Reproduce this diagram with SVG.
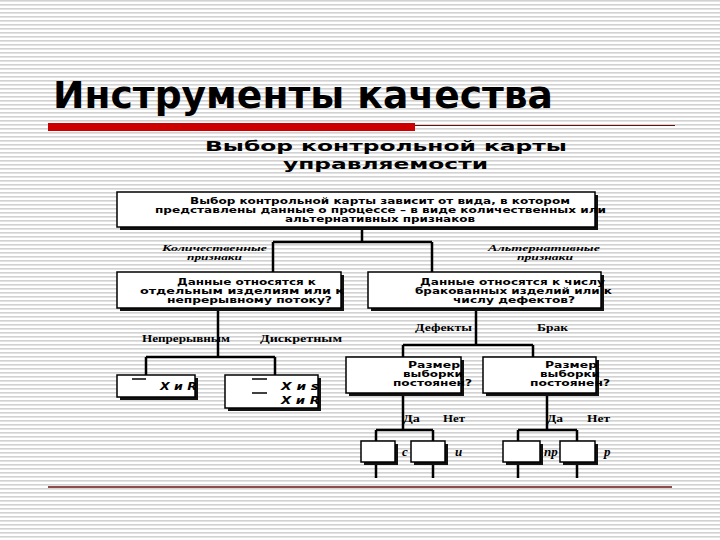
<svg xmlns="http://www.w3.org/2000/svg" width="720" height="540" viewBox="0 0 720 540">
<defs>
<pattern id="stripes" width="8" height="4" patternUnits="userSpaceOnUse">
<rect width="8" height="4" fill="#ffffff"/>
<rect y="0" width="8" height="1.6" fill="#d2d2d2"/>
</pattern>
</defs>
<style>
.box{fill:#ffffff;stroke:#000;stroke-width:1.5}
.sh{fill:#111}
.t{font-family:"DejaVu Sans","Liberation Sans",sans-serif;font-weight:bold;font-size:8px;fill:#000}
.h{font-family:"DejaVu Sans","Liberation Sans",sans-serif;font-weight:bold;font-size:14px;fill:#000}
.lbl{font-family:"Liberation Serif","DejaVu Serif",serif;font-weight:bold;font-size:10px;fill:#000}
.it{font-family:"Liberation Serif","DejaVu Serif",serif;font-weight:bold;font-style:italic;font-size:9px;fill:#000}
.lt{font-family:"Liberation Serif","DejaVu Serif",serif;font-weight:bold;font-style:italic;font-size:13px;fill:#000}
.xr{font-family:"DejaVu Sans","Liberation Sans",sans-serif;font-weight:bold;font-style:italic;font-size:11px;fill:#000}
.con{fill:none;stroke:#000;stroke-width:2.5}
.bar{stroke:#000;stroke-width:1.5}
</style>
<rect width="720" height="540" fill="url(#stripes)"/>
<g id="title">
<text x="53" y="108" font-family="DejaVu Sans, Liberation Sans, sans-serif" font-weight="bold" font-size="38" textLength="500" lengthAdjust="spacingAndGlyphs" fill="#000">Инструменты качества</text>
<rect x="48" y="123" width="367" height="8" fill="#cc0000"/>
<line x1="415" y1="125.5" x2="675" y2="125.5" stroke="#6b1010" stroke-width="1"/>
</g>
<g id="heading">
<text class="h" x="205" y="151" textLength="362" lengthAdjust="spacingAndGlyphs">Выбор контрольной карты</text>
<text class="h" x="283" y="169" textLength="205" lengthAdjust="spacingAndGlyphs">управляемости</text>
</g>
<g id="connectors">
<path class="con" d="M362 228V242M273 242H432M273 242V272M432 242V272"/>
<path class="con" d="M218 308V357M146 357H275M146 357V375M275 357V375"/>
<path class="con" d="M476 308V345M403 345H533M403 345V357M533 345V357"/>
<path class="con" d="M403 393V430M376 430H433M376 430V441M433 430V441"/>
<path class="con" d="M547 393V430M518 430H577M518 430V441M577 430V441"/>
<path class="con" d="M376 462V478M433 462V478M518 462V478M577 462V478"/>
</g>
<g id="n-top">
<rect class="sh" x="120" y="195" width="478" height="35"/>
<rect class="box" x="117" y="192" width="478" height="35"/>
<text class="t" x="190" y="204" textLength="380" lengthAdjust="spacingAndGlyphs">Выбор контрольной карты зависит от вида, в котором</text>
<text class="t" x="155" y="213" textLength="451" lengthAdjust="spacingAndGlyphs">представлены данные о процессе – в виде количественных или</text>
<text class="t" x="285" y="222" textLength="190" lengthAdjust="spacingAndGlyphs">альтернативных признаков</text>
</g>
<g id="l-kol">
<text class="it" x="162" y="251" textLength="105" lengthAdjust="spacingAndGlyphs">Количественные</text>
<text class="it" x="187" y="260" textLength="55" lengthAdjust="spacingAndGlyphs">признаки</text>
</g>
<g id="l-alt">
<text class="it" x="488" y="251" textLength="112" lengthAdjust="spacingAndGlyphs">Альтернативные</text>
<text class="it" x="517" y="260" textLength="56" lengthAdjust="spacingAndGlyphs">признаки</text>
</g>
<g id="n-left">
<rect class="sh" x="120" y="275" width="224" height="36"/>
<rect class="box" x="117" y="272" width="224" height="36"/>
<text class="t" x="177" y="285" textLength="139" lengthAdjust="spacingAndGlyphs">Данные относятся к</text>
<text class="t" x="140" y="294" textLength="204" lengthAdjust="spacingAndGlyphs">отдельным изделиям или к</text>
<text class="t" x="167" y="303" textLength="165" lengthAdjust="spacingAndGlyphs">непрерывному потоку?</text>
</g>
<g id="n-right">
<rect class="sh" x="371" y="275" width="233" height="36"/>
<rect class="box" x="368" y="272" width="233" height="36"/>
<text class="t" x="420" y="285" textLength="185" lengthAdjust="spacingAndGlyphs">Данные относятся к числу</text>
<text class="t" x="415" y="294" textLength="197" lengthAdjust="spacingAndGlyphs">бракованных изделий или к</text>
<text class="t" x="453" y="303" textLength="122" lengthAdjust="spacingAndGlyphs">числу дефектов?</text>
</g>
<g id="l-branch">
<text class="lbl" x="142" y="342" textLength="88" lengthAdjust="spacingAndGlyphs">Непрерывным</text>
<text class="lbl" x="260" y="342" textLength="82" lengthAdjust="spacingAndGlyphs">Дискретным</text>
<text class="lbl" x="415" y="331" textLength="57" lengthAdjust="spacingAndGlyphs">Дефекты</text>
<text class="lbl" x="537" y="331" textLength="31" lengthAdjust="spacingAndGlyphs">Брак</text>
</g>
<g id="n-xr">
<rect class="sh" x="120" y="378" width="78" height="22"/>
<rect class="box" x="117" y="375" width="78" height="22"/>
<line class="bar" x1="132" y1="379" x2="146" y2="379"/>
<text class="xr" x="160" y="390" textLength="37" lengthAdjust="spacingAndGlyphs">X и R</text>
</g>
<g id="n-xs">
<rect class="sh" x="228" y="378" width="93" height="33"/>
<rect class="box" x="225" y="375" width="93" height="33"/>
<line class="bar" x1="252" y1="379" x2="267" y2="379"/>
<line class="bar" x1="252" y1="393" x2="267" y2="393"/>
<text class="xr" x="281" y="390" textLength="38" lengthAdjust="spacingAndGlyphs">X и s</text>
<text class="xr" x="281" y="404" textLength="39" lengthAdjust="spacingAndGlyphs">X и R</text>
</g>
<g id="n-size1">
<rect class="sh" x="349" y="360" width="115" height="36"/>
<rect class="box" x="346" y="357" width="115" height="36"/>
<text class="t" x="408" y="368" textLength="52" lengthAdjust="spacingAndGlyphs">Размер</text>
<text class="t" x="403" y="377" textLength="60" lengthAdjust="spacingAndGlyphs">выборки</text>
<text class="t" x="393" y="386" textLength="79" lengthAdjust="spacingAndGlyphs">постоянен?</text>
</g>
<g id="n-size2">
<rect class="sh" x="486" y="360" width="113" height="36"/>
<rect class="box" x="483" y="357" width="113" height="36"/>
<text class="t" x="545" y="368" textLength="52" lengthAdjust="spacingAndGlyphs">Размер</text>
<text class="t" x="540" y="377" textLength="60" lengthAdjust="spacingAndGlyphs">выборки</text>
<text class="t" x="530" y="386" textLength="80" lengthAdjust="spacingAndGlyphs">постоянен?</text>
</g>
<g id="l-yesno">
<text class="lbl" x="403" y="422" textLength="17" lengthAdjust="spacingAndGlyphs">Да</text>
<text class="lbl" x="443" y="422" textLength="22" lengthAdjust="spacingAndGlyphs">Нет</text>
<text class="lbl" x="547" y="422" textLength="16" lengthAdjust="spacingAndGlyphs">Да</text>
<text class="lbl" x="587" y="422" textLength="23" lengthAdjust="spacingAndGlyphs">Нет</text>
</g>
<g id="n-c">
<text class="lt" x="402" y="456">c</text>
<rect class="sh" x="364" y="444" width="34" height="21"/>
<rect class="box" x="361" y="441" width="34" height="21"/>
</g>
<g id="n-u">
<rect class="sh" x="414" y="444" width="34" height="21"/>
<rect class="box" x="411" y="441" width="34" height="21"/>
<text class="lt" x="455" y="456">u</text>
</g>
<g id="n-np">
<rect class="sh" x="506" y="444" width="37" height="21"/>
<rect class="box" x="503" y="441" width="37" height="21"/>
<text class="lt" x="544" y="456">np</text>
</g>
<g id="n-p">
<rect class="sh" x="563" y="444" width="35" height="21"/>
<rect class="box" x="560" y="441" width="35" height="21"/>
<text class="lt" x="604" y="456">p</text>
</g>
<g id="footer">
<line x1="48" y1="487" x2="672" y2="487" stroke="#6b1010" stroke-width="1.5"/>
</g>
</svg>
